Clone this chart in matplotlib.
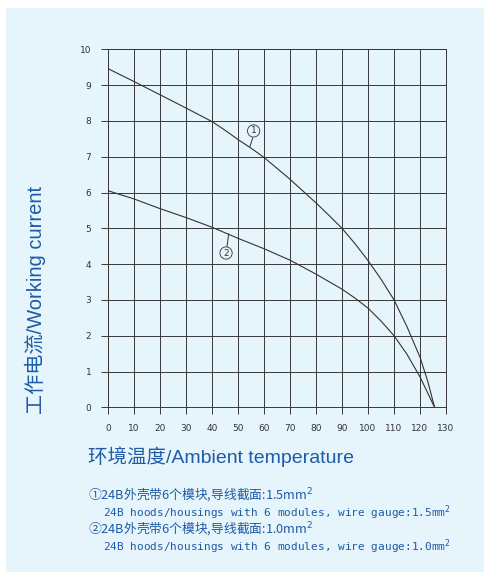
import matplotlib.pyplot as plt
from matplotlib.patches import Rectangle

# curve 1: 1.5 mm2 wire
temp_1 = [0, 10, 20, 30, 40, 45, 50, 55, 60, 70, 80, 85, 90, 95, 100, 105, 110, 115, 120, 123, 125.6]
current_1 = [9.46, 9.10, 8.73, 8.36, 7.98, 7.74, 7.48, 7.24, 6.98, 6.37, 5.71, 5.36, 5.0, 4.57, 4.1, 3.58, 3.0, 2.25, 1.4, 0.72, 0.0]

# curve 2: 1.0 mm2 wire
temp_2 = [0, 10, 20, 30, 40, 50, 60, 70, 80, 90, 95, 100, 105, 110, 115, 120, 125.6]
current_2 = [6.05, 5.82, 5.55, 5.30, 5.03, 4.72, 4.43, 4.11, 3.72, 3.30, 3.05, 2.77, 2.41, 2.0, 1.48, 0.85, 0.0]

x_ticks = list(range(0, 131, 10))
y_ticks = list(range(0, 11))

legend_lines = [
    "①24B外壳带6个模块,导线截面:1.5mm$^2$",
    "24B hoods/housings with 6 modules, wire gauge:1.5mm$^2$",
    "②24B外壳带6个模块,导线截面:1.0mm$^2$",
    "24B hoods/housings with 6 modules, wire gauge:1.0mm$^2$",
]

BG = "#E6F4FB"
BLUE = "#1F5BA6"
GRID = "#383838"
LABEL_FONT = ["Liberation Sans", "Noto Sans CJK SC"]

fig = plt.figure(figsize=(4.84, 5.72), dpi=100)
fig.patch.set_facecolor("white")
fig.patches.append(Rectangle((6 / 484, 0), 1, 1 - 8 / 572, transform=fig.transFigure,
                             facecolor=BG, edgecolor="none", zorder=-10))

ax = fig.add_axes([108 / 484, 1 - 407.3 / 572, 338 / 484, 358 / 572])
ax.set_facecolor(BG)
ax.set_xlim(0, 130)
ax.set_ylim(0, 10)
ax.set_xticks(x_ticks)
ax.set_yticks(y_ticks)
ax.grid(True, color=GRID, linewidth=0.7)
for spine in ax.spines.values():
    spine.set_color(GRID)
    spine.set_linewidth(0.7)
ax.tick_params(direction="out", length=5, width=0.7, color=GRID,
               labelsize=6.5, labelcolor="#333333", pad=7)

ax.plot(temp_1, current_1, color="#333333", linewidth=0.8)
ax.plot(temp_2, current_2, color="#333333", linewidth=0.8)

# curve markers with leader lines
ax.plot([54.6, 55.6], [7.28, 7.52], color="#333333", linewidth=0.7)
ax.text(56.0, 7.72, "1", fontsize=6.5, ha="center", va="center", color="#333333",
        bbox=dict(boxstyle="circle,pad=0.18", facecolor="none", edgecolor="#333333", linewidth=0.6))
ax.plot([46.4, 45.8], [4.84, 4.5], color="#333333", linewidth=0.7)
ax.text(45.4, 4.31, "2", fontsize=6.5, ha="center", va="center", color="#333333",
        bbox=dict(boxstyle="circle,pad=0.18", facecolor="none", edgecolor="#333333", linewidth=0.6))

fig.text(35 / 484, 1 - 300 / 572, "工作电流/Working current", rotation=90,
         ha="center", va="center", fontsize=14.5, color=BLUE, family=LABEL_FONT)
fig.text(88 / 484, 1 - 457 / 572, "环境温度/Ambient temperature",
         ha="left", va="center", fontsize=14, color=BLUE, family=LABEL_FONT)

rows = [(88, 496), (103, 513), (88, 530), (103, 547)]
for (px, py), line in zip(rows, legend_lines):
    if line.startswith(("①", "②")):
        fam = ["Noto Sans CJK SC", "DejaVu Sans Mono"]
        size = 9.2
    else:
        fam = ["DejaVu Sans Mono"]
        size = 8
    fig.text(px / 484, 1 - py / 572, line, ha="left", va="center",
             fontsize=size, color=BLUE, family=fam)

fig.savefig("out.png", dpi=100, facecolor=fig.get_facecolor())
